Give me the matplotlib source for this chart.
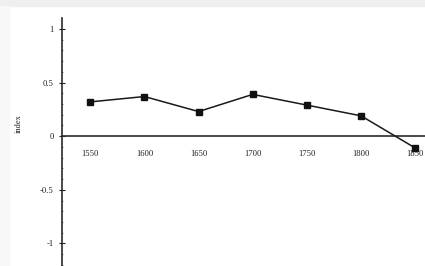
import matplotlib
matplotlib.use("Agg")
import matplotlib.pyplot as plt
from matplotlib.ticker import FixedLocator

years = [1550, 1600, 1650, 1700, 1750, 1800, 1850]
index_values = [0.32, 0.37, 0.23, 0.39, 0.29, 0.19, -0.11]
x_ticks = [1550, 1600, 1650, 1700, 1750, 1800, 1850]
y_ticks = [-1, -0.5, 0, 0.5, 1]
y_tick_labels = ["-1", "-0.5", "0", "0.5", "1"]

plt.rcParams['font.family'] = ['Liberation Serif', 'DejaVu Serif']

fig = plt.figure(figsize=(4.25, 2.66), dpi=100)
fig.patch.set_facecolor("white")
# scanned page edge
fig.patches.append(plt.Rectangle((0, 0.978), 1, 0.022, transform=fig.transFigure,
                                 color="#efefef", zorder=0))
fig.patches.append(plt.Rectangle((0, 0), 0.02, 0.978, transform=fig.transFigure,
                                 color="#f8f8f8", zorder=0))

ax = fig.add_axes([0, 0, 1, 1])
ax.set_facecolor("none")
ax.set_xlim(1466.7, 1859)
ax.set_ylim(-1.21, 1.27)

ax.plot(years, index_values, color="#1a1a1a", lw=1.1, marker="s", ms=4.2,
        mfc="#111111", mec="#111111", zorder=3)

ax.spines['left'].set_position(('data', 1524))
ax.spines['bottom'].set_position(('data', 0))
ax.spines['left'].set_bounds(-1.3, 1.1)
ax.spines['bottom'].set_bounds(1524, 1859)
ax.spines['top'].set_visible(False)
ax.spines['right'].set_visible(False)
for s in ('left', 'bottom'):
    ax.spines[s].set_color("#2a2a2a")
    ax.spines[s].set_linewidth(1.2)

ax.set_yticks(y_ticks)
ax.set_yticklabels(y_tick_labels)
ax.yaxis.set_minor_locator(FixedLocator([v / 10 for v in range(-12, 11)]))
ax.set_xticks(x_ticks)
ax.set_xticklabels([str(x) for x in x_ticks])
ax.tick_params(axis='y', direction='inout', length=4, width=0.8, labelsize=6.2,
               colors="#222222", pad=4)
ax.tick_params(axis='y', which='minor', direction='inout', length=2, width=0.5,
               colors="#555555")
ax.tick_params(axis='x', direction='out', length=0, labelsize=6.2,
               colors="#222222", pad=10)

ax.text(1484, 0.12, "index", rotation=90, fontsize=6, color="#222222",
        ha='center', va='center')

fig.savefig("out.png", dpi=100)
